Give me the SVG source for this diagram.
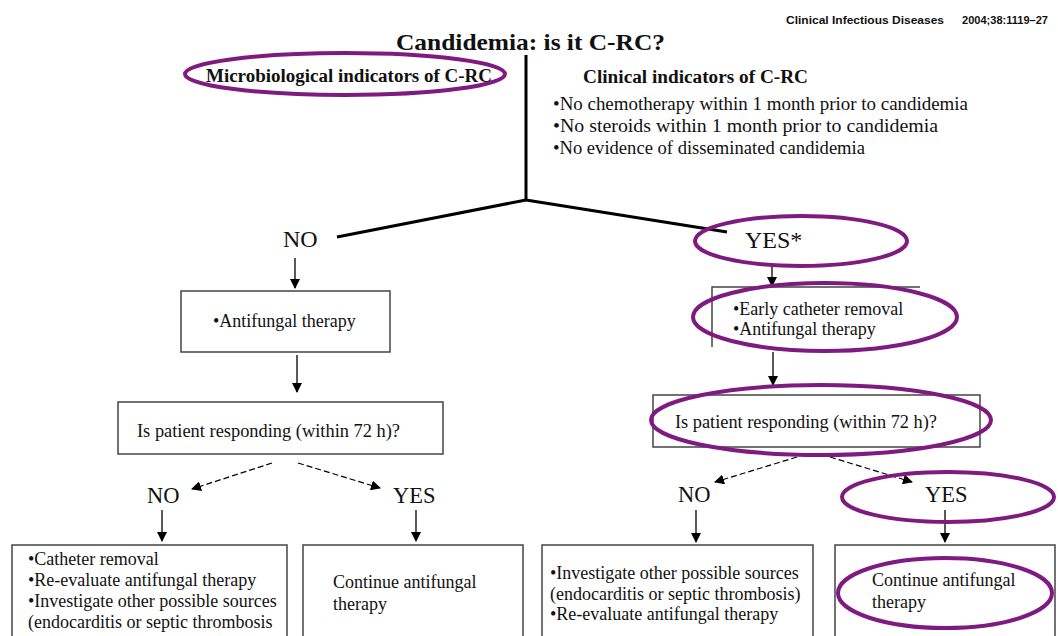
<svg xmlns="http://www.w3.org/2000/svg" width="1058" height="636" viewBox="0 0 1058 636">
<defs>
<marker id="ah" viewBox="0 0 10 10" refX="9" refY="5" markerWidth="10" markerHeight="10" markerUnits="userSpaceOnUse" orient="auto">
<path d="M0,0 L10,5 L0,10 z" fill="#000"/>
</marker>
<style>
text{font-family:"Liberation Serif","Times New Roman",serif;fill:#111}
.b{font-weight:bold}
.t18{font-size:18px}
.lab{font-size:22.5px}
.labt{font-size:24px}
.box{fill:none;stroke:#444;stroke-width:1.5}
.thick{stroke:#000;stroke-width:3;fill:none}
.arr{stroke:#000;stroke-width:1.3;fill:none;marker-end:url(#ah)}
.dash{stroke:#000;stroke-width:1.3;fill:none;stroke-dasharray:6 3;marker-end:url(#ah)}
.hl{fill:none;stroke:#7f1a80;stroke-width:4}
.hdr{font-family:"Liberation Sans Narrow","Liberation Sans",sans-serif;font-weight:bold;font-size:11.5px}
</style>
</defs>

<g id="header">
<text class="hdr" x="786" y="24" textLength="158" lengthAdjust="spacingAndGlyphs">Clinical Infectious Diseases</text>
<text class="hdr" x="962" y="24" textLength="86" lengthAdjust="spacingAndGlyphs">2004;38:1119–27</text>
</g>

<g id="title">
<text class="b" x="396" y="50" font-size="24" textLength="269" lengthAdjust="spacingAndGlyphs">Candidemia: is it C-RC?</text>
</g>

<g id="connectors">
<path class="thick" d="M526,55 L526,201"/>
<path class="thick" d="M526,200 L337,237"/>
<path class="thick" d="M526,200 L727,232"/>
<path class="arr" d="M295,258 L295,288"/>
<path class="arr" d="M297,355 L297,392"/>
<path class="dash" d="M272,463 L192,489"/>
<path class="dash" d="M298,463 L380,488"/>
<path class="arr" d="M162,510 L162,541"/>
<path class="arr" d="M416,510 L416,541"/>
<path class="arr" d="M772,264 L772,286"/>
<path class="arr" d="M773,352 L773,385"/>
<path class="dash" d="M797,457 L715,482"/>
<path class="dash" d="M830,457 L912,482"/>
<path class="arr" d="M696,510 L696,542"/>
<path class="arr" d="M945,510 L945,542"/>
</g>

<g id="micro">
<text class="b t18" x="206" y="82" textLength="286" lengthAdjust="spacingAndGlyphs">Microbiological indicators of C-RC</text>
<ellipse class="hl" cx="345" cy="74" rx="160" ry="21"/>
</g>

<g id="clinical">
<text class="b t18" x="583" y="83" textLength="225" lengthAdjust="spacingAndGlyphs">Clinical indicators of C-RC</text>
<text class="t18" x="553" y="110" textLength="415" lengthAdjust="spacingAndGlyphs">•No chemotherapy within 1 month prior to candidemia</text>
<text class="t18" x="553" y="132" textLength="385" lengthAdjust="spacingAndGlyphs">•No steroids within 1 month  prior to candidemia</text>
<text class="t18" x="553" y="154" textLength="312" lengthAdjust="spacingAndGlyphs">•No evidence of disseminated candidemia</text>
</g>

<g id="no-top">
<text class="labt" x="283" y="247">NO</text>
</g>

<g id="yes-top">
<text class="labt" x="745" y="248">YES*</text>
<ellipse class="hl" cx="801" cy="241" rx="106" ry="25"/>
</g>

<g id="antifungal-left">
<rect class="box" x="181" y="291" width="209" height="61"/>
<text class="t18" x="213" y="327">•Antifungal therapy</text>
</g>

<g id="responding-left">
<rect class="box" x="118" y="402" width="325" height="52"/>
<text class="t18" x="137" y="437" textLength="263" lengthAdjust="spacingAndGlyphs">Is patient responding (within 72 h)?</text>
</g>

<g id="no-left">
<text class="lab" x="147" y="503">NO</text>
</g>
<g id="yes-left">
<text class="lab" x="393" y="503">YES</text>
</g>

<g id="box-left-no">
<rect class="box" x="12" y="545" width="275" height="110"/>
<text class="t18" x="28" y="565">•Catheter removal</text>
<text class="t18" x="28" y="586">•Re-evaluate antifungal therapy</text>
<text class="t18" x="28" y="607">•Investigate other possible sources</text>
<text class="t18" x="28" y="628">(endocarditis or septic thrombosis</text>
</g>

<g id="box-left-yes">
<rect class="box" x="303" y="545" width="220" height="110"/>
<text class="t18" x="333" y="588">Continue antifungal</text>
<text class="t18" x="333" y="610">therapy</text>
</g>

<g id="early-removal">
<path class="box" d="M712,347 L712,287 L920,287"/>
<text class="t18" x="733" y="315">•Early catheter removal</text>
<text class="t18" x="733" y="335">•Antifungal therapy</text>
<ellipse class="hl" cx="825" cy="317" rx="132" ry="34"/>
</g>

<g id="responding-right">
<rect class="box" x="653" y="395" width="327" height="52"/>
<text class="t18" x="675" y="428" textLength="262" lengthAdjust="spacingAndGlyphs">Is patient responding (within 72 h)?</text>
<ellipse class="hl" cx="821" cy="420" rx="170" ry="35"/>
</g>

<g id="no-right">
<text class="lab" x="678" y="502">NO</text>
</g>
<g id="yes-right">
<text class="lab" x="925" y="502">YES</text>
<ellipse class="hl" cx="948" cy="497" rx="106" ry="25"/>
</g>

<g id="box-right-no">
<rect class="box" x="542" y="545" width="271" height="110"/>
<text class="t18" x="550" y="579">•Investigate other possible sources</text>
<text class="t18" x="550" y="600">(endocarditis or septic thrombosis)</text>
<text class="t18" x="550" y="620">•Re-evaluate antifungal therapy</text>
</g>

<g id="box-right-yes">
<rect class="box" x="835" y="545" width="220" height="110"/>
<text class="t18" x="872" y="586">Continue antifungal</text>
<text class="t18" x="872" y="608">therapy</text>
<ellipse class="hl" cx="945" cy="593" rx="107" ry="35"/>
</g>
</svg>
